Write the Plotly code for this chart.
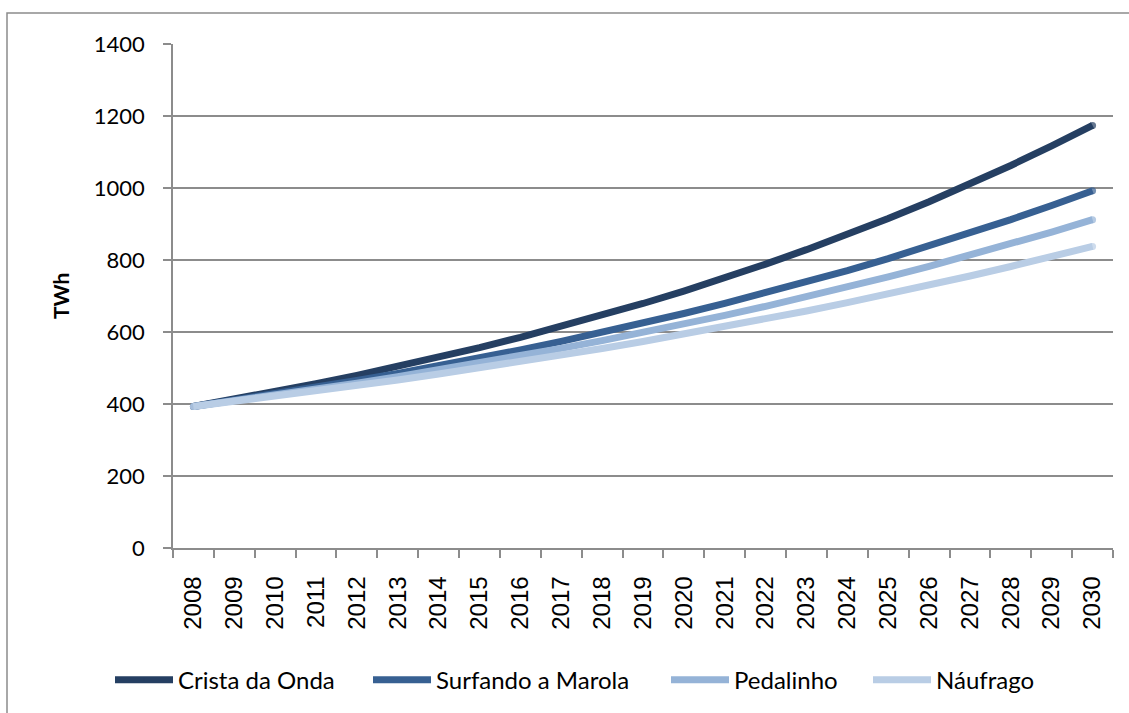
import plotly.graph_objects as go

years = [str(y) for y in range(2008, 2031)]

crista_da_onda = [393, 413.0, 434.1, 456.2, 479.5, 504.0, 529.7, 556.7, 585.1, 614.9,
                  646.2, 679.2, 713.8, 750.2, 788.5, 828.7, 870.9, 915.3, 962.0, 1011.1,
                  1062.6, 1116.8, 1173.8]
surfando_a_marola = [393, 409.9, 427.5, 445.9, 465.1, 485.1, 506.0, 527.7, 550.4, 574.1,
                     598.8, 624.5, 651.4, 679.4, 708.6, 739.1, 770.8, 804.0, 838.6, 874.6,
                     912.2, 951.4, 992.3]
pedalinho = [393, 408.3, 424.3, 440.8, 458.0, 475.9, 494.4, 513.7, 533.7, 554.5,
             576.2, 598.6, 622.0, 646.2, 671.4, 697.6, 724.8, 753.1, 782.5, 813.0,
             844.7, 877.6, 911.9]
naufrago = [393, 406.8, 421.0, 435.7, 451.0, 466.8, 483.1, 500.0, 517.5, 535.6,
            554.4, 573.8, 593.9, 614.7, 636.2, 658.4, 681.5, 705.3, 730.0, 755.6,
            782.0, 809.4, 837.7]

series = [
    ("Crista da Onda", crista_da_onda, "#253F62"),
    ("Surfando a Marola", surfando_a_marola, "#376092"),
    ("Pedalinho", pedalinho, "#95B3D7"),
    ("Náufrago", naufrago, "#B9CDE5"),
]

# left edge (px) of each legend entry along the bottom row
legend_left_px = [110, 368, 666, 868]

GRID = "#8C8C8C"
LW = 7
SANS = "Lato, Calibri, sans-serif"

fig = go.Figure()
legend_layout = {}
for i, (name, vals, color) in enumerate(series):
    lg = "legend" if i == 0 else f"legend{i + 1}"
    # round-ish end caps: markers only at the first and last points
    sizes = [0] * len(vals)
    sizes[0] = LW
    sizes[-1] = LW
    fig.add_trace(go.Scatter(
        x=years, y=vals, name=name, mode="lines+markers",
        line=dict(color=color, width=LW),
        marker=dict(color=color, size=sizes, line=dict(width=0)),
        legend=lg,
    ))
    legend_layout[lg] = dict(
        orientation="h", x=legend_left_px[i] / 1129, xref="container", xanchor="left",
        y=0.046, yref="container", yanchor="middle",
        font=dict(family=SANS, size=24, color="black"),
        itemwidth=58, bgcolor="rgba(0,0,0,0)", borderwidth=0,
    )

fig.update_layout(
    width=1129, height=713,
    margin=dict(l=173, r=16, t=44, b=165),
    paper_bgcolor="white", plot_bgcolor="white",
    font=dict(family=SANS, size=22, color="black"),
    showlegend=True,
    shapes=[dict(
        type="rect", xref="paper", yref="paper",
        x0=(7 - 173) / 940, x1=1.05, y0=-0.5, y1=(548 - 13) / 504,
        line=dict(color="#8C8C8C", width=1.5), fillcolor="rgba(0,0,0,0)", layer="below",
    )],
    annotations=[dict(
        text="<b>TWh</b>", xref="paper", yref="paper",
        x=(60 - 173) / 940, y=(548 - 296) / 504, xanchor="center", yanchor="middle",
        textangle=-90, showarrow=False,
        font=dict(family=SANS, size=21, color="black"),
    )],
    **legend_layout,
)

fig.update_xaxes(
    type="category", range=[-0.5, 22.5],
    tickson="boundaries", ticks="outside", ticklen=8, tickcolor=GRID, tickwidth=1.5,
    tickangle=-90, ticklabelstandoff=17,
    tickfont=dict(family="Liberation Sans, Arial, sans-serif", size=24, color="black"),
    showline=True, linecolor=GRID, linewidth=1.5,
    showgrid=False, zeroline=False,
)
fig.update_yaxes(
    range=[0, 1400], dtick=200, tick0=0,
    ticks="outside", ticklen=8, tickcolor=GRID, tickwidth=1.5,
    ticklabelstandoff=14,
    tickfont=dict(family=SANS, size=22, color="black"),
    showline=True, linecolor=GRID, linewidth=1.5,
    showgrid=True, gridcolor=GRID, gridwidth=1.5,
    zeroline=False,
)

fig.write_html("out.html")
